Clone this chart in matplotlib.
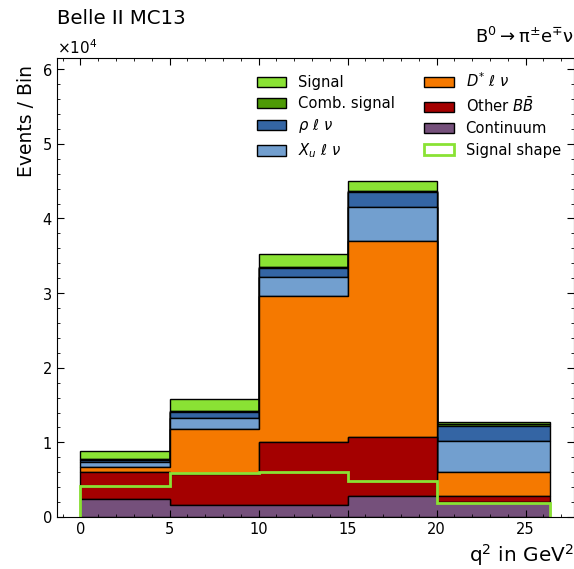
import numpy as np
import matplotlib
matplotlib.use("Agg")
import matplotlib.pyplot as plt
from matplotlib.ticker import MultipleLocator

# q^2 binning in GeV^2
bin_edges = [0, 5, 10, 15, 20, 26.4]

# per-bin yields for each component (stacked bottom -> top)
continuum = [2370, 1600, 1600, 2860, 2050]
other_bb = [3660, 4160, 8450, 7820, 800]
dstar_lnu = [720, 6080, 19500, 26320, 3140]
xu_lnu = [630, 1430, 2550, 4500, 4240]
rho_lnu = [230, 740, 1200, 2050, 1970]
comb_signal = [130, 160, 200, 150, 200]
signal = [1150, 1610, 1700, 1300, 300]

# signal template overlaid as outline
signal_shape = [4200, 5920, 6030, 4790, 1900]

components = [continuum, other_bb, dstar_lnu, xu_lnu, rho_lnu, comb_signal, signal]
labels = ["Continuum", r"Other $B\bar{B}$", r"$D^{*}\ \ell\ \nu$", r"$X_{u}\ \ell\ \nu$",
          r"$\rho\ \ell\ \nu$", "Comb. signal", "Signal"]
colors = ["#75507b", "#a40000", "#f57900", "#729fcf", "#3465a4", "#4e9a06", "#8ae234"]

edges = np.array(bin_edges)
centers = 0.5 * (edges[1:] + edges[:-1])

fig = plt.figure(figsize=(5.74, 5.69), dpi=100)
ax = fig.add_axes([0.0993, 0.0914, 0.9007, 0.8066])

_, _, patches = ax.hist([centers] * len(components), bins=edges, weights=components,
                        stacked=True, histtype="stepfilled", color=colors,
                        edgecolor="black", linewidth=1.0)
_, _, shape_patch = ax.hist(centers, bins=edges, weights=signal_shape, histtype="step",
                            color="#8ae234", linewidth=2.0)

ax.set_xlim(-1.32, 27.72)
ax.set_ylim(0, 6.15e4)

ax.xaxis.set_major_locator(MultipleLocator(5))
ax.xaxis.set_minor_locator(MultipleLocator(1))
ax.yaxis.set_major_locator(MultipleLocator(1e4))
ax.yaxis.set_minor_locator(MultipleLocator(2e3))
ax.ticklabel_format(axis="y", style="sci", scilimits=(0, 0), useMathText=True)
ax.tick_params(which="both", direction="in", top=True, right=True, labelsize=10.5)
ax.tick_params(which="major", length=5)
ax.tick_params(which="minor", length=2.5)
ax.yaxis.get_offset_text().set_fontsize(11)

ax.set_xlabel(r"$\mathrm{q^2\ in\ GeV^2}$", loc="right", fontsize=14.4)
ax.set_ylabel("Events / Bin", loc="top", fontsize=13.5)
ax.yaxis.label.set_y(0.985)

fig.text(0.0993, 1 - 18 / 569, "Belle II MC13", fontsize=14.2, va="center", ha="left")
ax.text(1.0, 1.025, r"$\mathrm{B^0 \rightarrow \pi^{\pm} e^{\mp} \nu}$", transform=ax.transAxes,
        fontsize=13, ha="right", va="bottom")

# legend: stack order reversed (top first), template last
handles = [p[0] for p in patches][::-1] + [shape_patch[0]]
leg_labels = labels[::-1] + ["Signal shape"]
ax.legend(handles, leg_labels, ncol=2, loc="upper right", frameon=False, fontsize=10.6,
          labelspacing=0.42)

fig.savefig("out.png", dpi=100)
